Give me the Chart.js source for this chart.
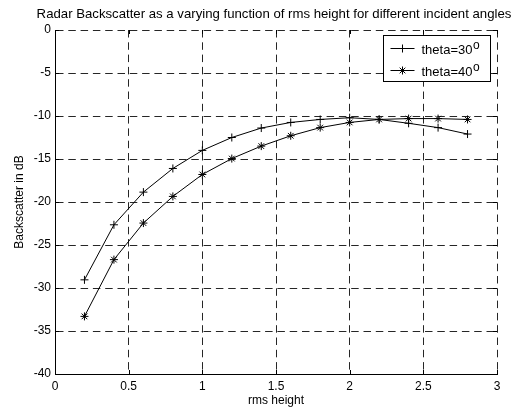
<!DOCTYPE html>
<html>
<head>
<meta charset="utf-8">
<script src="https://cdn.jsdelivr.net/npm/chart.js@4/dist/chart.umd.min.js"></script>
<style>
  html, body { margin: 0; padding: 0; background: #ffffff; }
  #plot { display: block; }
</style>
</head>
<body>
<canvas id="plot" width="518" height="411"></canvas>
<script>
// rms height samples
const rmsHeight = [0.2, 0.4, 0.6, 0.8, 1.0, 1.2, 1.4, 1.6, 1.8, 2.0, 2.2, 2.4, 2.6, 2.8];
// backscatter (dB) for each incident angle
const backscatter30 = [-29.05, -22.65, -18.85, -16.1, -14.0, -12.5, -11.4, -10.75, -10.4, -10.2, -10.4, -10.85, -11.35, -12.1];
const backscatter40 = [-33.3, -26.7, -22.45, -19.35, -16.8, -14.95, -13.5, -12.3, -11.35, -10.75, -10.4, -10.3, -10.3, -10.4];
const incidentAngles = [30, 40];
const markerStyles = ['cross', 'star'];
const xTicks = [0, 0.5, 1, 1.5, 2, 2.5, 3];
const yTicks = [-40, -35, -30, -25, -20, -15, -10, -5, 0];
const chartTitle = 'Radar Backscatter as a varying function of rms height for different incident angles';

const FONT = "'Liberation Sans', Arial, Helvetica, sans-serif";
const INK = '#000000';

const seriesValues = [backscatter30, backscatter40];
const datasets = seriesValues.map((vals, i) => ({
  label: 'theta=' + incidentAngles[i],
  data: rmsHeight.map((x, k) => ({ x: x, y: vals[k] })),
  showLine: true,
  borderColor: INK,
  backgroundColor: INK,
  borderWidth: 1,
  tension: 0,
  pointStyle: markerStyles[i],
  pointRadius: 4,
  pointBorderWidth: 1,
  pointBorderColor: INK,
  pointHoverRadius: 4
}));

// title centred over the axes, allowed to run past the plot edges
const plotTitle = {
  id: 'plotTitle',
  afterDraw(chart) {
    const { ctx, chartArea: a } = chart;
    ctx.save();
    ctx.fillStyle = INK;
    ctx.font = '13.2px ' + FONT;
    ctx.textAlign = 'center';
    ctx.textBaseline = 'middle';
    ctx.fillText(chartTitle, (a.left + a.right) / 2 - 2, a.top - 15.5);
    ctx.restore();
  }
};

// inward tick marks on all four sides of the axes box
const innerTicks = {
  id: 'innerTicks',
  afterDatasetsDraw(chart) {
    const { ctx, chartArea: a, scales: { x, y } } = chart;
    const len = 4;
    ctx.save();
    ctx.strokeStyle = INK;
    ctx.lineWidth = 1;
    ctx.beginPath();
    xTicks.forEach(v => {
      const px = Math.round(x.getPixelForValue(v)) + 0.5;
      ctx.moveTo(px, a.bottom); ctx.lineTo(px, a.bottom - len);
      ctx.moveTo(px, a.top); ctx.lineTo(px, a.top + len);
    });
    yTicks.forEach(v => {
      const py = Math.round(y.getPixelForValue(v)) + 0.5;
      ctx.moveTo(a.left, py); ctx.lineTo(a.left + len, py);
      ctx.moveTo(a.right, py); ctx.lineTo(a.right - len, py);
    });
    ctx.stroke();
    ctx.restore();
  }
};

// boxed legend in the upper right corner, angle written with a raised "o"
const boxLegend = {
  id: 'boxLegend',
  afterDraw(chart) {
    const { ctx, chartArea: a } = chart;
    const boxW = 107, boxH = 46;
    const bx = a.right - 7 - boxW + 0.5;
    const by = a.top + 5 + 0.5;
    ctx.save();
    ctx.fillStyle = '#ffffff';
    ctx.fillRect(bx, by, boxW, boxH);
    ctx.strokeStyle = INK;
    ctx.lineWidth = 1;
    ctx.strokeRect(bx, by, boxW, boxH);
    chart.data.datasets.forEach((ds, i) => {
      const rowY = Math.round(by + 12.5 + i * 21.5) + 0.5;
      const x0 = bx + 7, x1 = bx + 31;
      ctx.beginPath();
      ctx.moveTo(x0, rowY); ctx.lineTo(x1, rowY);
      ctx.strokeStyle = INK; ctx.lineWidth = 1;
      ctx.stroke();
      Chart.helpers.drawPoint(ctx, {
        pointStyle: ds.pointStyle, radius: 4, borderWidth: 1, rotation: 0
      }, (x0 + x1) / 2, rowY);
      ctx.fillStyle = INK;
      ctx.font = '13px ' + FONT;
      ctx.textBaseline = 'middle';
      ctx.textAlign = 'left';
      const tx = bx + 38;
      ctx.fillText(ds.label, tx, rowY + 1.5);
      const w = ctx.measureText(ds.label).width;
      ctx.font = '12px ' + FONT;
      ctx.fillText('o', tx + w + 0.5, rowY - 3);
    });
    ctx.restore();
  }
};

new Chart(document.getElementById('plot'), {
  type: 'scatter',
  data: { datasets },
  plugins: [innerTicks, boxLegend, plotTitle],
  options: {
    responsive: false,
    animation: false,
    devicePixelRatio: 1,
    layout: { padding: { top: 30, right: 21, bottom: 0, left: 0 } },
    plugins: {
      legend: { display: false },
      tooltip: { enabled: false },
      title: { display: false }
    },
    scales: {
      x: {
        type: 'linear',
        min: 0, max: 3,
        afterBuildTicks(s) { s.ticks = xTicks.map(v => ({ value: v })); },
        afterFit(s) { s.height = 37; },
        ticks: {
          color: INK,
          font: { family: FONT, size: 12 },
          padding: 5.5,
          maxRotation: 0,
          callback: v => String(v)
        },
        grid: { color: 'rgba(0,0,0,0.85)', lineWidth: 1, drawTicks: false },
        border: { display: true, color: INK, width: 1, dash: [7.5, 4.8] },
        title: {
          display: true,
          text: 'rms height',
          color: INK,
          font: { family: FONT, size: 12, lineHeight: 1.2 },
          padding: { top: 0, bottom: 3.6 }
        }
      },
      y: {
        type: 'linear',
        min: -40, max: 0,
        afterBuildTicks(s) { s.ticks = yTicks.map(v => ({ value: v })); },
        afterFit(s) { s.width = 55; },
        ticks: {
          color: INK,
          font: { family: FONT, size: 12 },
          padding: 4,
          callback: v => String(v)
        },
        grid: { color: 'rgba(0,0,0,0.85)', lineWidth: 1, drawTicks: false },
        border: { display: true, color: INK, width: 1, dash: [7.5, 4.8] },
        title: {
          display: true,
          text: 'Backscatter in dB',
          color: INK,
          font: { family: FONT, size: 12, lineHeight: 1.2 },
          padding: { top: 12, bottom: 0 }
        }
      }
    }
  }
});
</script>
</body>
</html>
